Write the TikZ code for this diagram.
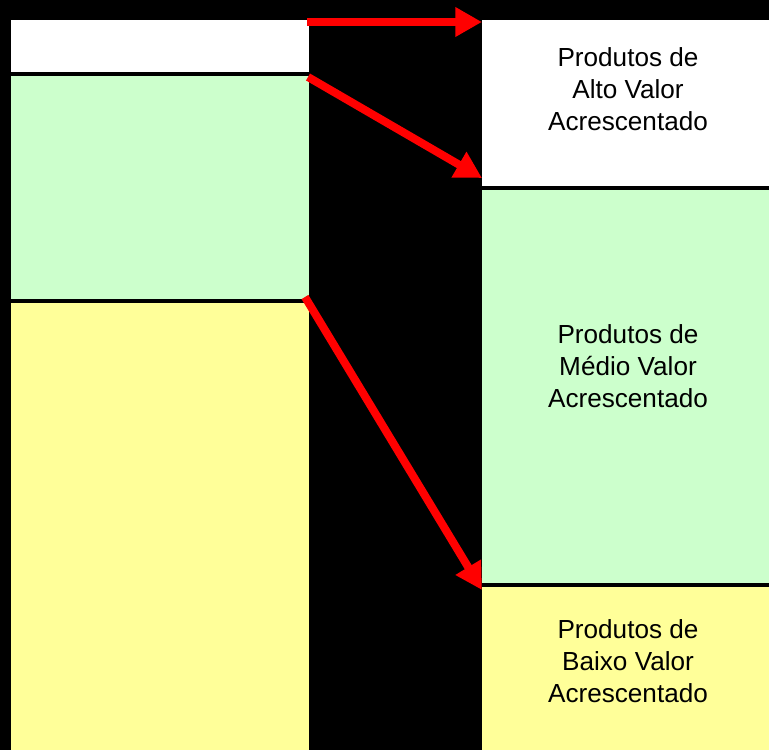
\documentclass[tikz,border=0pt]{standalone}
\usepackage{fontspec}
\setmainfont{Liberation Sans}
\usepackage{tikz}
\usetikzlibrary{calc}
\usetikzlibrary{arrows.meta}
\usetikzlibrary{positioning}
\definecolor{valgreen}{HTML}{CCFFCC}
\definecolor{valyellow}{HTML}{FFFF99}
\tikzstyle{box} = [rectangle, draw=none, inner sep=0pt, outer sep=0pt, anchor=north west]
\tikzstyle{lbl} = [align=center, font=\fontsize{19.6}{24}\selectfont]
\tikzstyle{moved} = [draw=red, line width=6pt, -{Triangle[length=20pt, width=21pt]}]

\begin{document}
\begin{tikzpicture}[x=0.75pt, y=-0.75pt]
\fill [black] (0, 0) rectangle (769, 750);
\node [box, fill=white, minimum width=223.5pt, minimum height=39pt] (lw) at (11, 20) {};
\node [box, fill=valgreen, minimum width=223.5pt, minimum height=167.25pt] (lg) at (11, 76) {};
\node [box, fill=valyellow, minimum width=223.5pt, minimum height=335.25pt] (ly) at (11, 303) {};
\node [box, fill=white, minimum width=215.25pt, minimum height=124.5pt] (rw) at (482, 20) {};
\node [box, fill=valgreen, minimum width=215.25pt, minimum height=294.75pt] (rg) at (482, 190) {};
\node [box, fill=valyellow, minimum width=215.25pt, minimum height=122.25pt] (ry) at (482, 587) {};
\node [lbl] (tw) at (628, 89) {Produtos de\\Alto Valor\\Acrescentado};
\node [lbl] (tg) at (628, 366) {Produtos de\\Médio Valor\\Acrescentado};
\node [lbl] (ty) at (628, 661) {Produtos de\\Baixo Valor\\Acrescentado};
\draw [moved] ([shift={(-2, 2)}]lw.north east) to ([yshift=-1.5pt]rw.north west);
\draw [moved] ([shift={(-1, 1)}]lg.north east) to ([yshift=9pt]rg.north west);
\draw [moved] ([shift={(-4, -6)}]ly.north east) to ([yshift=-2.25pt]ry.north west);
\end{tikzpicture}
\end{document}
